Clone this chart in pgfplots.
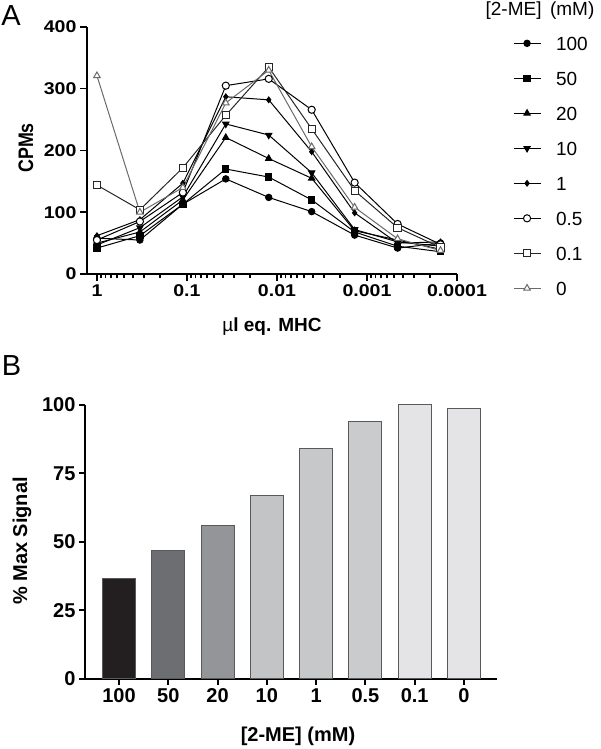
\documentclass[border=0pt]{standalone}
\usepackage{pgfplots}
\pgfplotsset{compat=1.18}
\usepackage{pgfplotstable}
\usepackage{fontspec}
\setmainfont{Liberation Sans}
\newfontfamily\stretchA[FakeStretch=1.15]{Liberation Sans}
\newfontfamily\squeezeA[FakeStretch=0.85]{Liberation Sans}

\definecolor{cA}{HTML}{231F20}
\definecolor{cB}{HTML}{6D6E71}
\definecolor{cC}{HTML}{939598}
\definecolor{cD}{HTML}{C3C4C6}
\definecolor{cE}{HTML}{C7C8CA}
\definecolor{cF}{HTML}{CACBCD}
\definecolor{cG}{HTML}{E4E4E6}
\definecolor{edge}{HTML}{58595B}
\definecolor{gline}{HTML}{6A6A6A}

\pgfplotstableread{
x          s100 s50 s20 s10 s1  s05 s01 s0
1          58   42  50  47  62  55  144 321
0.33333    55   62  68  75  88  85  104 100
0.11111    113  113 120 125 147 132 172 140
0.037037   154  170 221 243 287 305 257 277
0.012346   124  157 187 225 282 316 335 330
0.0041152  101  120 155 164 198 266 235 206
0.0013717  63   68  70  72  99  148 135 108
0.00045725 42   45  55  52  50  81  75  57
0.00015242 50   36  40  45  52  48  43  38
}\dataA

\begin{document}
\begin{tikzpicture}[x=1pt,y=1pt]
\useasboundingbox (0,0) rectangle (600,749);

\begin{axis}[
  at={(87pt,475pt)}, anchor=south west,
  scale only axis, width=370pt, height=247pt,
  xmode=log, x dir=reverse,
  xmin=0.0001, xmax=1.29,
  ymin=0, ymax=400,
  axis x line=bottom, axis y line=left,
  axis line style={-, line width=2pt},
  xtick={1,0.1,0.01,0.001,0.0001},
  xticklabels={1,0.1,0.01,0.001,0.0001},
  minor xtick={0.9,0.8,0.7,0.6,0.5,0.4,0.3,0.2,
    0.09,0.08,0.07,0.06,0.05,0.04,0.03,0.02,
    0.009,0.008,0.007,0.006,0.005,0.004,0.003,0.002,
    0.0009,0.0008,0.0007,0.0006,0.0005,0.0004,0.0003,0.0002},
  ytick={0,100,200,300,400},
  tick align=outside,
  major tick length=7pt, minor tick length=4pt,
  tick style={line width=1.5pt, black},
  ticklabel style={font=\stretchA\bfseries\fontsize{17}{17}\selectfont},
  /pgf/number format/assume math mode=true,
  legend style={at={(axis description cs:1.151,0.963)}, anchor=north west,
    draw=none, fill=none, inner sep=0pt, row sep=21pt, column sep=15pt,
    font=\fontsize{19}{19}\selectfont,
    nodes={inner sep=0pt, text height=14pt, text depth=0pt}},
  legend cell align=left,
  legend image code/.code={\draw[mark repeat=2,mark phase=2,#1] plot coordinates {(0pt,0pt) (13.5pt,0pt) (27pt,0pt)};},
  every axis plot/.append style={line width=1pt},
]
\addplot[black, mark=*, mark size=3.2pt] table[x=x,y=s100]{\dataA};
\addlegendentry{100}
\addplot[black, mark=square*, mark size=3.2pt] table[x=x,y=s50]{\dataA};
\addlegendentry{50}
\addplot[black, mark=triangle*, mark size=3.6pt] table[x=x,y=s20]{\dataA};
\addlegendentry{20}
\addplot[black, mark=triangle*, mark size=3.6pt, mark options={rotate=180}] table[x=x,y=s10]{\dataA};
\addlegendentry{10}
\addplot[black, mark=diamond*, mark size=2.8pt] table[x=x,y=s1]{\dataA};
\addlegendentry{1}
\addplot[black, mark=*, mark size=3.6pt, mark options={fill=white}] table[x=x,y=s05]{\dataA};
\addlegendentry{0.5}
\addplot[black!85, mark=square*, mark size=3.6pt, mark options={fill=white}] table[x=x,y=s01]{\dataA};
\addlegendentry{0.1}
\addplot[gline, mark=triangle*, mark size=3.8pt, mark options={fill=white}] table[x=x,y=s0]{\dataA};
\addlegendentry{0}
\end{axis}

\begin{axis}[
  at={(85pt,70pt)}, anchor=south west,
  scale only axis, width=412pt, height=274pt,
  xmin=-0.69, xmax=7.67, ymin=0, ymax=100,
  axis x line=bottom, axis y line=left,
  axis line style={-, line width=2pt},
  xtick={0,1,2,3,4,5,6,7},
  xticklabels={100,50,20,10,1,0.5,0.1,0},
  ytick={0,25,50,75,100},
  tick align=outside, major tick length=6pt,
  tick style={line width=2pt, black},
  ticklabel style={font=\bfseries\fontsize{20}{20}\selectfont},
  /pgf/number format/assume math mode=true,
]
\addplot[ybar, bar width=33pt, bar shift=0pt, fill=cA, draw=edge, line width=1pt] coordinates {(0,36.7)};
\addplot[ybar, bar width=33pt, bar shift=0pt, fill=cB, draw=edge, line width=1pt] coordinates {(1,46.8)};
\addplot[ybar, bar width=33pt, bar shift=0pt, fill=cC, draw=edge, line width=1pt] coordinates {(2,56.1)};
\addplot[ybar, bar width=33pt, bar shift=0pt, fill=cD, draw=edge, line width=1pt] coordinates {(3,66.8)};
\addplot[ybar, bar width=33pt, bar shift=0pt, fill=cE, draw=edge, line width=1pt] coordinates {(4,84.3)};
\addplot[ybar, bar width=33pt, bar shift=0pt, fill=cF, draw=edge, line width=1pt] coordinates {(5,94.1)};
\addplot[ybar, bar width=33pt, bar shift=0pt, fill=cG, draw=edge, line width=1pt] coordinates {(6,100)};
\addplot[ybar, bar width=33pt, bar shift=0pt, fill=cG, draw=edge, line width=1pt] coordinates {(7,98.9)};
\end{axis}

% panel letters and labels
\node[font=\fontsize{29}{29}\selectfont] at (11,733) {A};
\node[font=\fontsize{29}{29}\selectfont] at (11.5,383) {B};
\node[font=\fontsize{19}{19}\selectfont] at (540,738) {[2-ME]\hspace{0.45em}(mM)};
\node[font=\squeezeA\bfseries\fontsize{21}{21}\selectfont, rotate=90] at (26,601) {CPMs};
\node[font=\bfseries\fontsize{19}{19}\selectfont] at (272,422) {{\mdseries µ}l eq. MHC};
\node[font=\bfseries\fontsize{20}{20}\selectfont, rotate=90] at (22,208) {\% Max Signal};
\node[font=\bfseries\fontsize{20}{20}\selectfont] at (298,13) {[2-ME] (mM)};
\end{tikzpicture}
\end{document}
